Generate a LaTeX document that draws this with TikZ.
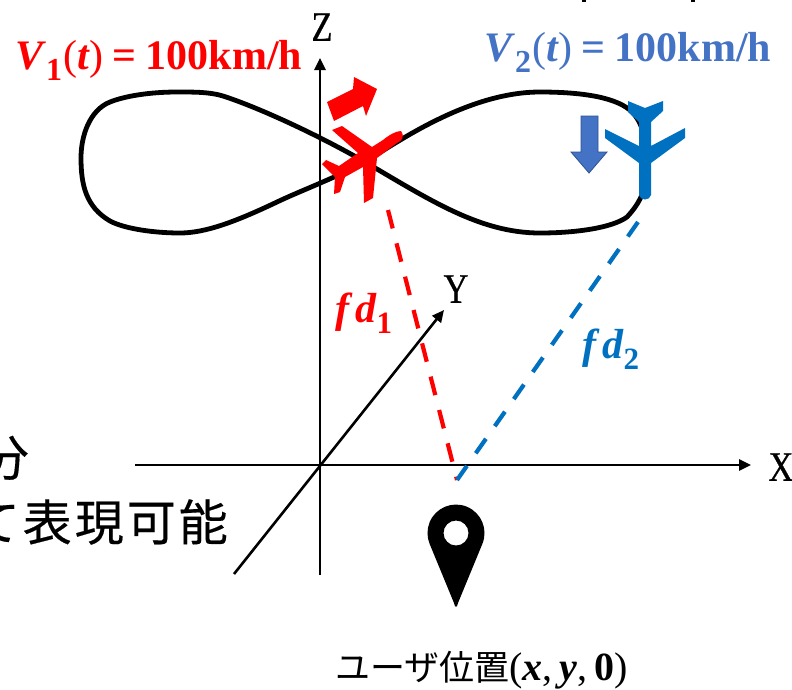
\documentclass[tikz,border=0pt]{standalone}
\usepackage{fontspec}
\usepackage{graphicx}
\setmainfont{Liberation Serif}
\newfontfamily\cjkjp[FakeBold=0.35]{Noto Sans CJK JP}
\newfontfamily\cjkthin{Noto Sans CJK JP}
\newfontfamily\axisfont[FakeBold=0.6]{Liberation Serif}
\usetikzlibrary{arrows.meta}
\definecolor{bluelabel}{HTML}{4472C4}
\definecolor{blueplane}{HTML}{0070C0}
\definecolor{blueedge}{HTML}{2F528F}
\newcommand{\vlabel}[1]{\textbf{\textit{V}}\raisebox{-.28em}{\fontsize{32}{32}\selectfont\textbf{#1}}\kern1pt(\textit{\textbf{t}})\kern9pt\textbf{=}\kern9pt\textbf{100km/h}}
\newcommand{\fdlabel}[1]{\textbf{\textit{f\kern6pt d}}\raisebox{-.28em}{\fontsize{31}{31}\selectfont\textbf{#1}}}
\tikzset{
  axisline/.style={black,line width=2.6pt,-{Triangle[length=12pt,width=11pt]}},
  axisname/.style={inner sep=0pt,font=\axisfont\fontsize{42}{42}\selectfont,xscale=.82},
  speed/.style={inner sep=0pt,anchor=base west,font=\fontsize{42}{44}\selectfont},
  fdname/.style={inner sep=0pt,anchor=base west,font=\fontsize{42}{44}\selectfont},
  fdline/.style={line width=4.2pt},
  bigjp/.style={inner sep=0pt,anchor=east,font=\cjkjp\fontsize{49}{50}\selectfont,text=black},
}
\begin{document}
\begin{tikzpicture}[x=1pt,y=-1pt]
\useasboundingbox (0,0) rectangle (792,689);
\clip (0,0) rectangle (792,689);
% coordinates
\coordinate (zs) at (320,575); \coordinate (ze) at (320,58);
\coordinate (xs) at (135,465); \coordinate (xe) at (751,465);
\coordinate (ys) at (234,574); \coordinate (ye) at (444,310);
\coordinate (plane1) at (388,210); \coordinate (plane2) at (638,222);
\coordinate (user) at (457,480);
% figure eight
\draw[black,line width=4.8pt,line join=round]
 (365,162) .. controls (400,140) and (470,92) .. (540,92)
 .. controls (585,92) and (618,98) .. (632,112)
 .. controls (645,125) and (648,150) .. (647,170)
 .. controls (646,190) and (640,203) .. (627,217)
 .. controls (612,228) and (575,233) .. (540,233)
 .. controls (480,233) and (430,200) .. (365,162)
 .. controls (320,136) and (260,108) .. (223,96)
 .. controls (210,92) and (195,92) .. (177,92)
 .. controls (150,92) and (125,96) .. (110,102)
 .. controls (90,110) and (81,135) .. (81,158)
 .. controls (81,185) and (86,207) .. (110,221)
 .. controls (125,229) and (155,233) .. (180,233)
 .. controls (205,233) and (235,222) .. (277,202)
 .. controls (300,191) and (335,178) .. (365,162) -- cycle;
% axes
\draw[axisline] (zs) -- (ze);
\draw[axisline] (xs) -- (xe);
\draw[axisline] (ys) -- (ye);
\node[axisname] (zlab) at (322,27) {Z};
\node[axisname] (ylab) at (456,289) {Y};
\node[axisname] (xlab) at (781,467) {X};
% fd lines
\draw[fdline,red,dash pattern=on 19pt off 15.4pt] (plane1) -- (user);
\draw[fdline,blueplane,dash pattern=on 17.7pt off 15.4pt] (plane2) -- (user);
% red plane
\fill[red] (401,131) .. controls (405,137) and (402,141) .. (397,143) -- (377,158) -- (373,198) -- (364,203) -- (363,167)
 -- (345,177) -- (340,192) -- (334,194) -- (335,177) -- (322,164) -- (326,160) -- (339,166) -- (358,153) -- (332,130)
 -- (342,126) -- (372,147) -- (383,140) .. controls (389,135) and (396,131) .. (401,131) -- cycle;
\fill[red] (327,102) -- (353,89) -- (354,77) -- (377,89) -- (366,116) -- (363,106) -- (334,121) -- cycle;
% blue plane
\fill[blueplane] (639,195) -- (639,163) -- (605,138) -- (605,129) -- (639,146) -- (639,122) -- (628,112) -- (628,101)
 -- (645,108) -- (663,101) -- (663,111) -- (651,122) -- (651,146) -- (685,128) -- (685,138) -- (651,163) -- (651,195)
 .. controls (650,201) and (640,201) .. (639,195) -- cycle;
\filldraw[fill=bluelabel,draw=blueedge,line width=.8pt] (581,116) -- (598,116) -- (598,152) -- (607,152) -- (589,173) -- (571,152) -- (581,152) -- cycle;
% pin
\fill[black,even odd rule] (458,603) -- (482.3,544) arc[start angle=22.6,end angle=-202.6,radius=28.5] -- (454,603)
 .. controls (455,608) and (457,608) .. (458,603) -- cycle
 (456,533) circle[radius=12.5];
% labels
\node[speed,text=red] (v1) at (15,69) {\vlabel{1}};
\node[speed,text=bluelabel] (v2) at (484,61) {\vlabel{2}};
\node[fdname,text=red] (fd1) at (335,322) {\fdlabel{1}};
\node[fdname,text=blueplane] (fd2) at (582,358) {\fdlabel{2}};
\node[bigjp] (frag1) at (29,458) {分};
\node[bigjp] (frag2) at (228,522) {て\kern3pt 表\kern3pt 現\kern3pt 可\kern3pt 能};
\node[inner sep=0pt,anchor=base west,text=black,font=\fontsize{40}{42}\selectfont] (userlab) at (335,680)
  {{\cjkthin\fontsize{35}{36}\selectfont ユーザ位置}(\textbf{\textit{x}},\kern7pt\textbf{\textit{y}},\kern7pt\textbf{0})};
% clipped descenders at the top edge
\fill[black] (582,0) rectangle (586,2);
\fill[black] (691,0) rectangle (695,2);
\end{tikzpicture}
\end{document}
